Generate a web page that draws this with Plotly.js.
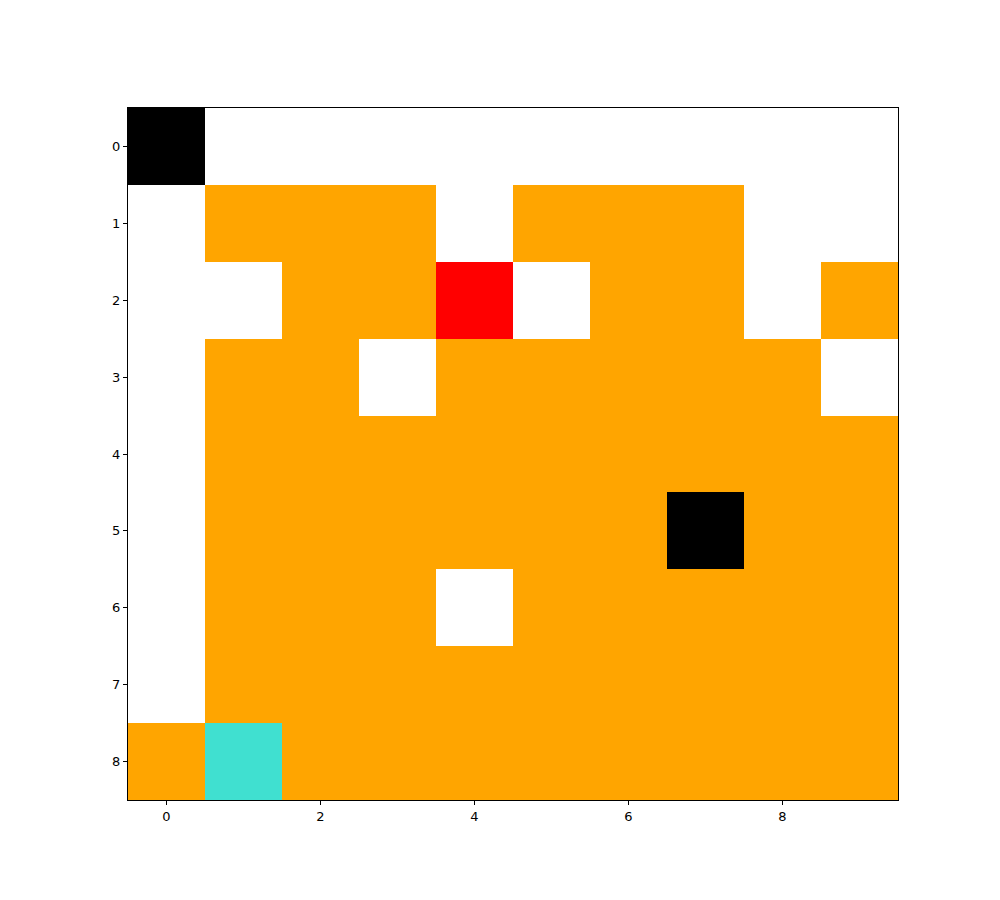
<!DOCTYPE html>
<html>
<head>
<meta charset="utf-8">
<script src="https://cdn.plot.ly/plotly-3.0.1.min.js"></script>
<style>html,body{margin:0;padding:0;background:#fff;}#chart{width:1000px;height:900px;}</style>
</head>
<body>
<div id="chart"></div>
<script>
// Column and row indices
const cols = [0, 1, 2, 3, 4, 5, 6, 7, 8, 9];
const rows = [0, 1, 2, 3, 4, 5, 6, 7, 8];
// Cell categories: 0 = empty (white), 1 = orange, 2 = black, 3 = red, 4 = turquoise
const grid = [
  [2, 0, 0, 0, 0, 0, 0, 0, 0, 0],
  [0, 1, 1, 1, 0, 1, 1, 1, 0, 0],
  [0, 0, 1, 1, 3, 0, 1, 1, 0, 1],
  [0, 1, 1, 0, 1, 1, 1, 1, 1, 0],
  [0, 1, 1, 1, 1, 1, 1, 1, 1, 1],
  [0, 1, 1, 1, 1, 1, 1, 2, 1, 1],
  [0, 1, 1, 1, 0, 1, 1, 1, 1, 1],
  [0, 1, 1, 1, 1, 1, 1, 1, 1, 1],
  [1, 4, 1, 1, 1, 1, 1, 1, 1, 1]
];
const categoryColors = ['#ffffff', '#ffa500', '#000000', '#ff0000', '#40e0d0'];
const xTicks = [0, 2, 4, 6, 8];
const yTicks = [0, 1, 2, 3, 4, 5, 6, 7, 8];

const n = categoryColors.length;
const colorscale = [];
categoryColors.forEach((c, i) => {
  colorscale.push([i / n, c]);
  colorscale.push([(i + 1) / n, c]);
});

const trace = {
  type: 'heatmap',
  x: cols,
  y: rows,
  z: grid,
  zmin: -0.5,
  zmax: n - 0.5,
  colorscale: colorscale,
  showscale: false,
  hoverinfo: 'x+y+z'
};

const axisCommon = {
  showgrid: false,
  zeroline: false,
  showline: true,
  mirror: true,
  linecolor: '#000',
  linewidth: 1,
  ticks: 'outside',
  ticklen: 4,
  tickwidth: 1,
  tickcolor: '#000',
  tickfont: {family: 'DejaVu Sans', size: 13, color: '#000'}
};

const layout = {
  width: 1000,
  height: 900,
  margin: {l: 128, r: 102, t: 108, b: 100},
  paper_bgcolor: '#fff',
  plot_bgcolor: '#fff',
  xaxis: Object.assign({}, axisCommon, {
    range: [-0.5, 9.5],
    tickmode: 'array',
    tickvals: xTicks,
    ticktext: xTicks.map(String)
  }),
  yaxis: Object.assign({}, axisCommon, {
    range: [8.5, -0.5],
    tickmode: 'array',
    tickvals: yTicks,
    ticktext: yTicks.map(String)
  }),
  showlegend: false
};

Plotly.newPlot('chart', [trace], layout, {displayModeBar: false, staticPlot: true});
</script>
</body>
</html>
